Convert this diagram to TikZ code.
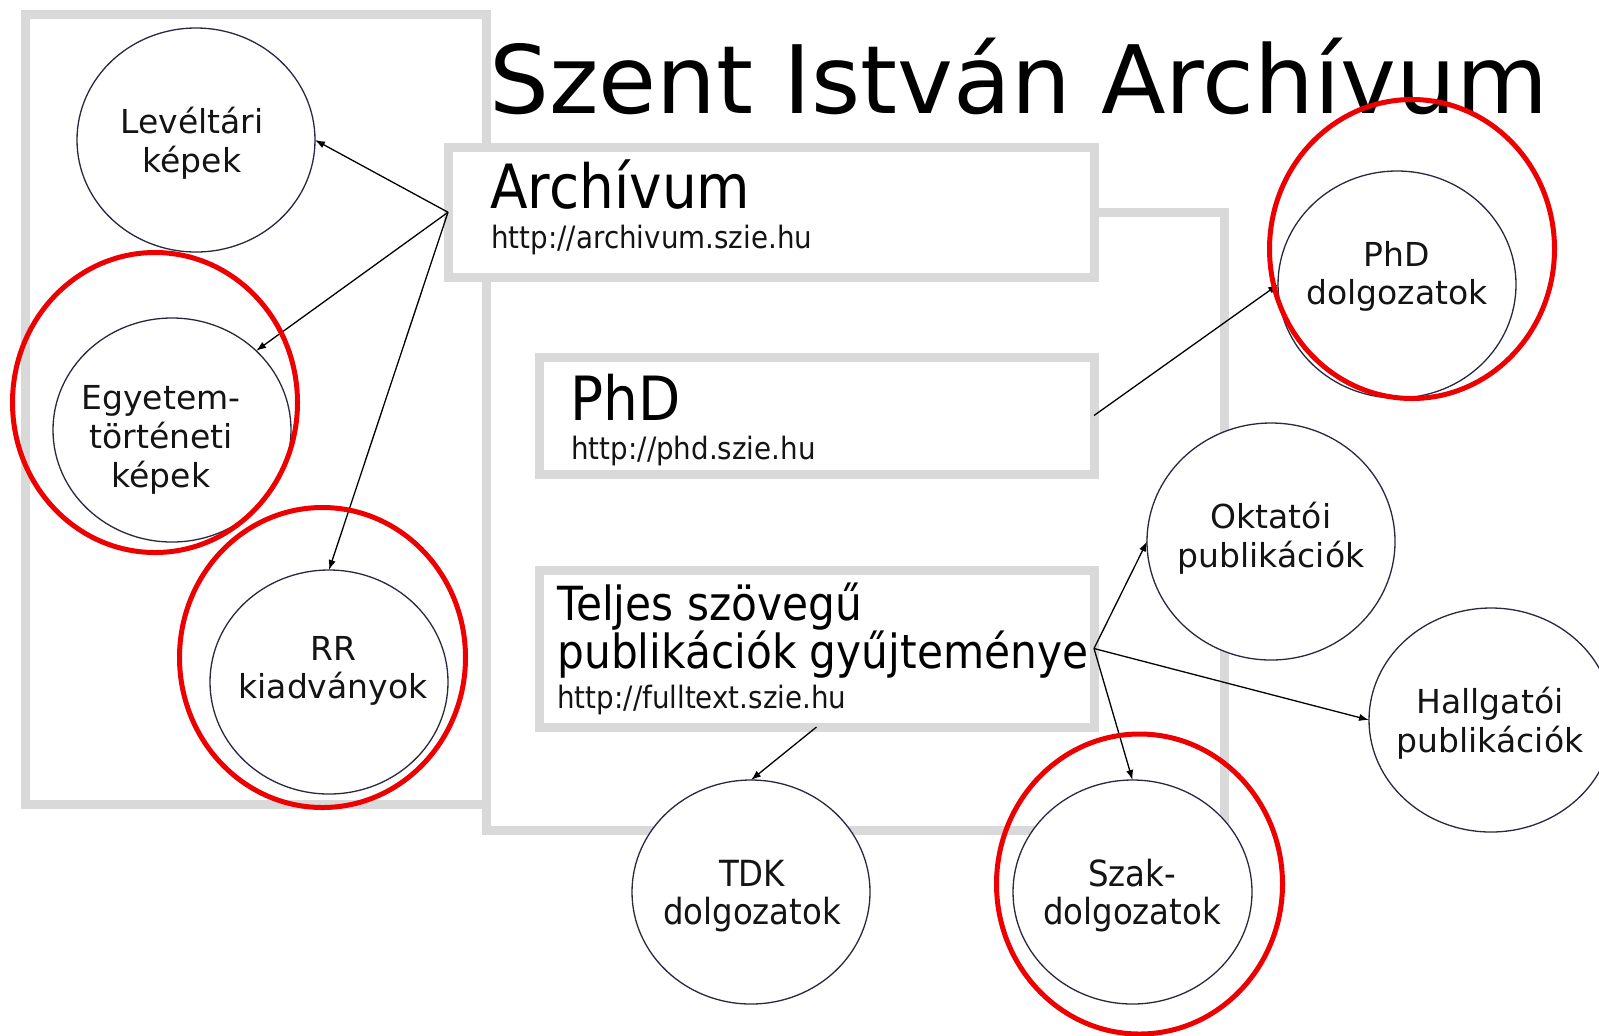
\documentclass[tikz,border=0pt]{standalone}
\usepackage{fontspec}
\setmainfont{DejaVu Sans}
\newfontfamily\vfont{DejaVu Sans}
\newfontfamily\tfont[FakeStretch=0.9]{DejaVu Sans}
\usetikzlibrary{shapes.geometric,arrows.meta}
\definecolor{boxgray}{RGB}{217,217,217}
\definecolor{circline}{RGB}{40,40,64}
\definecolor{redline}{RGB}{238,0,0}
\definecolor{txt}{RGB}{20,20,20}
\begin{document}
\begin{tikzpicture}[x=0.5pt,y=-0.5pt,
  gframe/.style={draw=boxgray,line width=4.5pt},
  gbox/.style={draw=boxgray,line width=4.5pt,fill=white,rectangle,inner sep=0,outer sep=0},
  circ/.style={ellipse,draw=circline,line width=0.65pt,fill=white,inner sep=0,outer sep=0,minimum width=119pt,minimum height=112pt},
  redc/.style={ellipse,draw=redline,line width=2.5pt,inner sep=0,outer sep=0},
  arr/.style={draw=black,line width=0.65pt,-{Latex[length=5pt,width=3.6pt]}},
  ctext/.style={anchor=base,inner sep=0,font=\vfont\fontsize{16.5pt}{19pt}\selectfont,text=txt},
  ttext/.style={anchor=base,inner sep=0,font=\tfont\fontsize{18pt}{21pt}\selectfont,text=txt},
  bigt/.style={anchor=base west,inner sep=0,font=\tfont\fontsize{30.5pt}{34pt}\selectfont,text=black},
  midt/.style={anchor=base west,inner sep=0,font=\tfont\fontsize{23.5pt}{27pt}\selectfont,text=black},
  urlt/.style={anchor=base west,inner sep=0,font=\tfont\fontsize{15.4pt}{18pt}\selectfont,text=txt},
  titlet/.style={anchor=base west,inner sep=0,font=\vfont\fontsize{47.2pt}{50pt}\selectfont,text=black}
]
\fill[white] (0,0) rectangle (1599,1035);
\useasboundingbox (0,0) rectangle (1599,1035);

% frames
\draw[gframe] (25.5,14.5) rectangle (486.5,804);
\draw[gframe] (486.5,212.5) rectangle (1224,830);

% boxes
\node[gbox,minimum width=323pt,minimum height=64.75pt] (arch) at (771,212.25) {};
\node[gbox,minimum width=277.5pt,minimum height=58.5pt] (phdb) at (816.5,415.5) {};
\node[gbox,minimum width=277.5pt,minimum height=78.5pt] (tel) at (816.5,648.5) {};

\node[bigt] (archT) at (490,208) {Archívum};
\node[urlt] (archU) at (491,248) {http://archivum.szie.hu};
\node[bigt] (phdT) at (570,420) {PhD};
\node[urlt] (phdU) at (571,459) {http://phd.szie.hu};
\node[midt] (telT1) at (557,620) {Teljes szövegű};
\node[midt] (telT2) at (557,668) {publikációk gyűjteménye};
\node[urlt] (telU) at (557,708) {http://fulltext.szie.hu};

% circles
\node[circ] (lev) at (196,140) {};
\node[circ] (egy) at (172,430) {};
\node[circ] (rr) at (329,682) {};
\node[circ,minimum height=113.5pt] (phdd) at (1397,284.5) {};
\node[circ,minimum width=124pt,minimum height=118.5pt] (okt) at (1271,541.5) {};
\node[circ,minimum width=122pt] (hall) at (1491,720) {};
\node[circ] (tdk) at (751,892) {};
\node[circ,minimum width=119.5pt] (szak) at (1132.5,892) {};

\node[ctext] (levT1) at (192,133) {Levéltári};
\node[ctext] (levT2) at (192,172) {képek};
\node[ctext] (egyT1) at (161,409) {Egyetem-};
\node[ctext] (egyT2) at (161,448) {történeti};
\node[ctext] (egyT3) at (161,487) {képek};
\node[ctext] (rrT1) at (333,660) {RR};
\node[ctext] (rrT2) at (333,698) {kiadványok};
\node[ctext] (phddT1) at (1397,266) {PhD};
\node[ctext] (phddT2) at (1397,304) {dolgozatok};
\node[ctext] (oktT1) at (1271,528) {Oktatói};
\node[ctext] (oktT2) at (1271,567) {publikációk};
\node[ctext] (hallT1) at (1490,713) {Hallgatói};
\node[ctext] (hallT2) at (1490,752) {publikációk};
\node[ttext] (tdkT1) at (752,886) {TDK};
\node[ttext] (tdkT2) at (752,924) {dolgozatok};
\node[ttext] (szakT1) at (1132,886) {Szak-};
\node[ttext] (szakT2) at (1132,924) {dolgozatok};

% connectors
\draw[arr] (arch.west) -- (lev.east);
\draw[arr] (arch.west) -- (egy.north east);
\draw[arr] (arch.west) -- (rr.north);
\draw[arr] (phdb.east) -- (phdd.west);
\draw[arr] (tel.east) -- (okt.west);
\draw[arr] (tel.east) -- (hall.west);
\draw[arr] (tel.east) -- (szak.north);
\draw[arr] (tel.south) -- (tdk.north);

% title
\node[titlet] (title) at (489,113) {Szent István Archívum};

% red highlights
\node[redc,minimum width=142.5pt,minimum height=150pt] (redEgy) at (155,402.5) {};
\node[redc,minimum width=143pt,minimum height=150pt] (redRR) at (322.5,657.5) {};
\node[redc,minimum width=142.5pt,minimum height=149.5pt] (redPhD) at (1412,249) {};
\node[redc,minimum width=143pt,minimum height=150pt] (redSzak) at (1139.5,884) {};
\end{tikzpicture}
\end{document}
